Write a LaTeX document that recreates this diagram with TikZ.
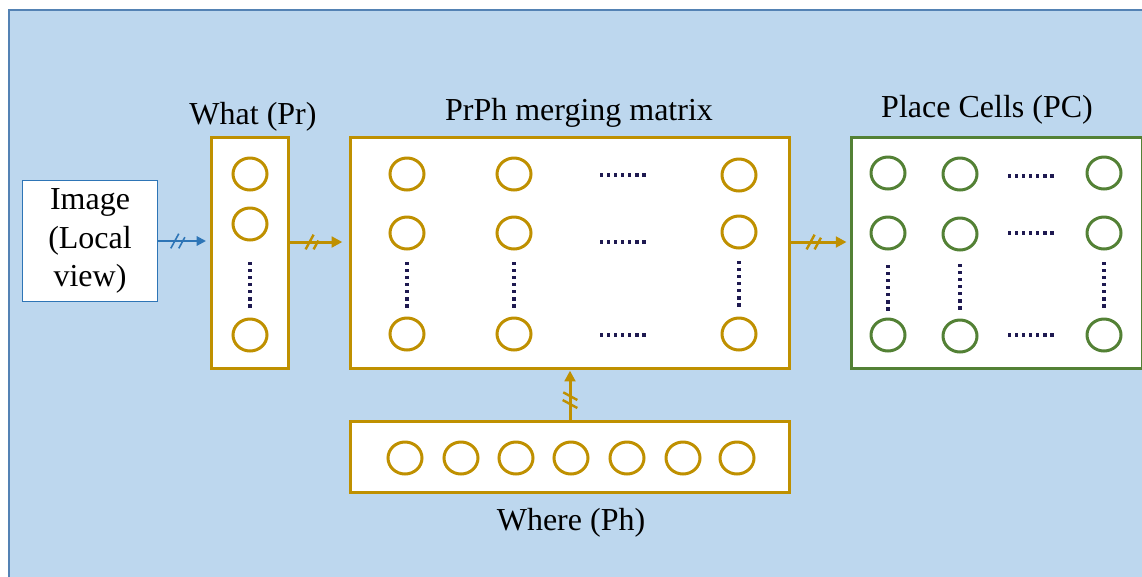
\documentclass[tikz,border=0pt]{standalone}
\usepackage{fontspec}
\setmainfont{Liberation Serif}
\usetikzlibrary{arrows.meta,shapes.geometric,decorations.markings}
\definecolor{bgblue}{RGB}{189,215,238}
\definecolor{bgedge}{RGB}{84,130,180}
\definecolor{imgblue}{RGB}{46,117,182}
\definecolor{gold}{RGB}{191,144,0}
\definecolor{pcgreen}{RGB}{83,129,53}
\definecolor{dotnavy}{RGB}{30,25,80}
\tikzset{
  lbl/.style={font=\fontsize{24}{29}\selectfont, inner sep=0pt},
  imgbox/.style={draw=imgblue, fill=white, line width=1.1pt, minimum width=100.9pt, minimum height=90.4pt, inner sep=0pt, align=center, font=\fontsize{24}{29}\selectfont},
  goldbox/.style={draw=gold, fill=white, line width=2.25pt, inner sep=0pt},
  greenbox/.style={draw=pcgreen, fill=white, line width=2.25pt, inner sep=0pt},
  cellgold/.style={ellipse, draw=gold, line width=2.25pt, minimum width=25.5pt, minimum height=24pt, inner sep=0pt},
  cellgreen/.style={ellipse, draw=pcgreen, line width=2.25pt, minimum width=25.5pt, minimum height=24pt, inner sep=0pt},
  dots/.style={draw=dotnavy, line width=2.4pt, dash pattern=on 2.4pt off 2.9pt},
  slashes/.style={postaction={decorate}, decoration={markings, mark=at position 0.4 with {\draw[-, line width=#1] (-6pt,-5.5pt) -- (0pt,5.5pt) (0pt,-5.5pt) -- (6pt,5.5pt);}}},
  goldarrow/.style={color=gold, line width=2.25pt, -{Triangle[length=8pt,width=8pt]}},
  bluearrow/.style={color=imgblue, line width=1.5pt, -{Triangle[length=7pt,width=7pt]}}
}
\begin{document}
\begin{tikzpicture}[x=0.75pt, y=-0.75pt]
\useasboundingbox (0,0) rectangle (1142,576);
\filldraw[fill=bgblue, draw=bgedge, line width=1.5pt] (9,10) rectangle (1170,600);

\node[imgbox] (img) at (90,241) {Image\\(Local\\view)};
\node[goldbox, minimum width=57.75pt, minimum height=173.25pt] (pr) at (250,253) {};
\node[goldbox, minimum width=329.25pt, minimum height=173.25pt] (mx) at (570,253) {};
\node[greenbox, minimum width=218.25pt, minimum height=173.25pt] (pc) at (997,253) {};
\node[goldbox, minimum width=329.25pt, minimum height=53.25pt] (ph) at (570,457) {};

\node[lbl, anchor=base] (pr_t) at (253,124) {What (Pr)};
\node[lbl, anchor=base] (mx_t) at (579,120) {PrPh merging matrix};
\node[lbl, anchor=base] (pc_t) at (987,117) {Place Cells (PC)};
\node[lbl, anchor=base] (ph_t) at (571,530) {Where (Ph)};

\node[cellgold] (pr_1) at (250,174) {};
\node[cellgold] (pr_2) at (250,224) {};
\node[cellgold] (pr_n) at (250,335) {};

\node[cellgold] (mx_11) at (407,174) {};
\node[cellgold] (mx_12) at (514,174) {};
\node[cellgold] (mx_1n) at (739,175) {};
\node[cellgold] (mx_21) at (407,233) {};
\node[cellgold] (mx_22) at (514,233) {};
\node[cellgold] (mx_2n) at (739,232) {};
\node[cellgold] (mx_n1) at (407,334) {};
\node[cellgold] (mx_n2) at (514,334) {};
\node[cellgold] (mx_nn) at (739,334) {};

\node[cellgreen] (pc_11) at (888,173) {};
\node[cellgreen] (pc_12) at (960,174) {};
\node[cellgreen] (pc_1n) at (1104,173) {};
\node[cellgreen] (pc_21) at (888,233) {};
\node[cellgreen] (pc_22) at (960,234) {};
\node[cellgreen] (pc_2n) at (1104,233) {};
\node[cellgreen] (pc_n1) at (888,335) {};
\node[cellgreen] (pc_n2) at (960,336) {};
\node[cellgreen] (pc_nn) at (1104,335) {};

\node[cellgold] (ph_1) at (405,458) {};
\node[cellgold] (ph_2) at (461,458) {};
\node[cellgold] (ph_3) at (516,458) {};
\node[cellgold] (ph_4) at (571,458) {};
\node[cellgold] (ph_5) at (627,458) {};
\node[cellgold] (ph_6) at (683,458) {};
\node[cellgold] (ph_7) at (737,458) {};

\draw[dots]
(250,262) -- (250,308)
(407,262) -- (407,308)
(514,262) -- (514,308)
(739,261) -- (739,307)
(600,175) -- (648,175)
(600,242) -- (648,242)
(600,335) -- (648,335)
(888,265) -- (888,311)
(960,264) -- (960,311)
(1104,262) -- (1104,309)
(1008,176) -- (1056,176)
(1008,233) -- (1056,233)
(1008,335) -- (1056,335);

\draw[bluearrow, slashes=1.2pt, shorten >=3pt] (img.east) -- (img.east -| pr.west);
\draw[goldarrow, slashes=1.8pt, shorten >=5pt] ([yshift=8.25pt]pr.east) -- ([yshift=8.25pt]mx.west);
\draw[goldarrow, slashes=1.8pt, shorten >=2.6pt] ([yshift=8.25pt]mx.east) -- ([yshift=8.25pt]pc.west);
\draw[goldarrow, slashes=1.8pt, shorten >=0.5pt] (ph.north) -- (mx.south);
\end{tikzpicture}
\end{document}
